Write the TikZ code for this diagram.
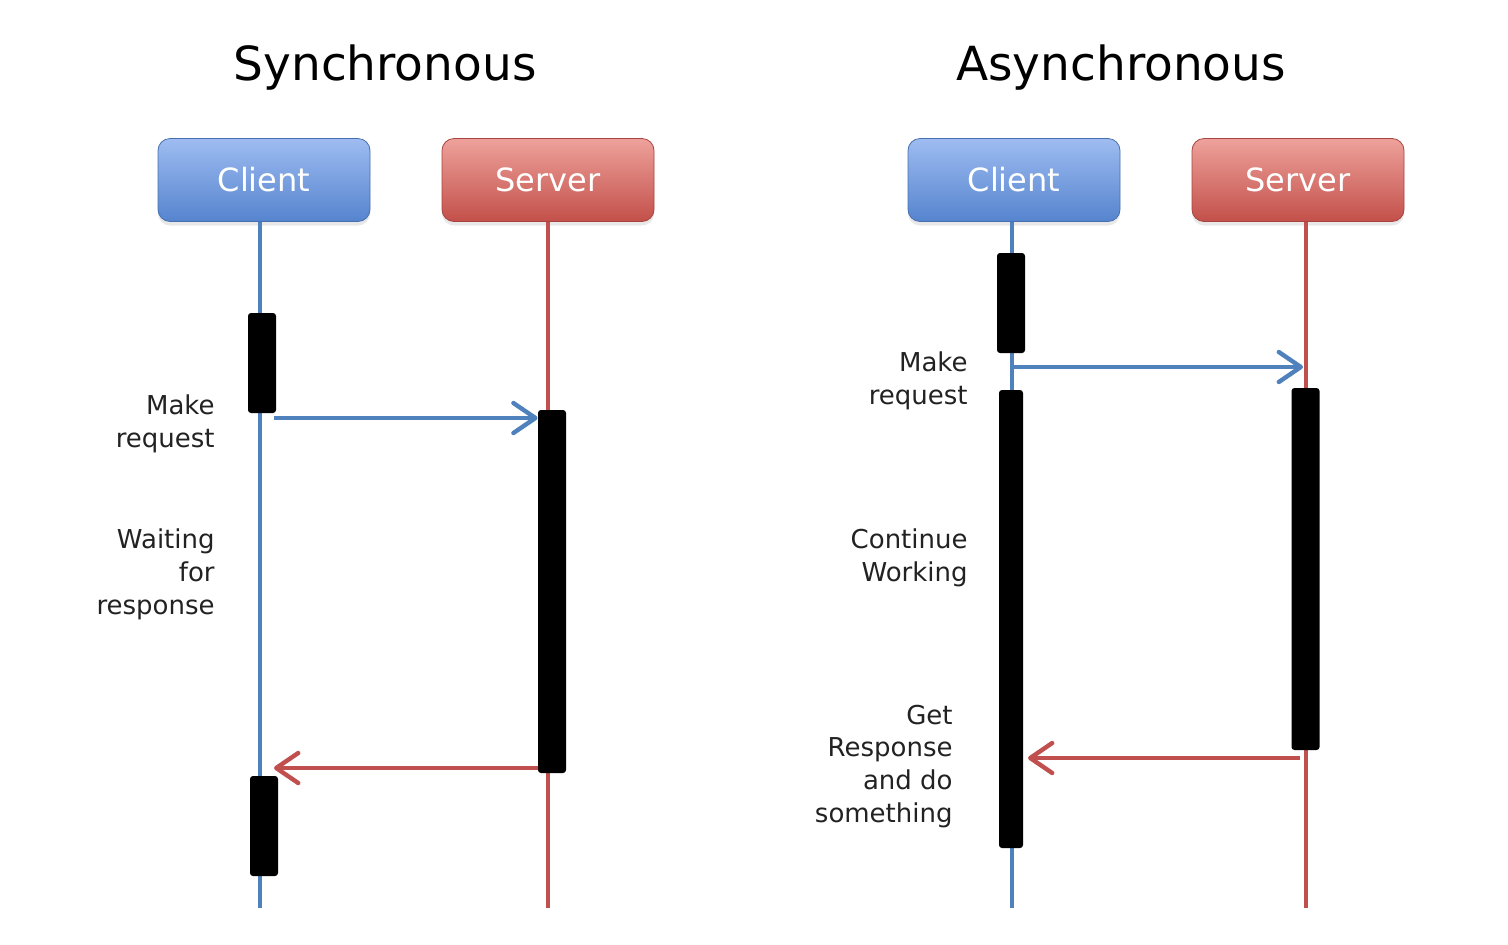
\documentclass[tikz,border=0pt]{standalone}
\usepackage{fontspec}
\setmainfont{DejaVu Sans}
\usepackage{tikz}
\usepackage{xcolor}
\usetikzlibrary{positioning}
\usetikzlibrary{shadows}
\usetikzlibrary{arrows.meta}

\definecolor{lineblue}{HTML}{4F81BD}
\definecolor{linered}{HTML}{C0504D}
\definecolor{bluetop}{HTML}{9EBCF1}
\definecolor{bluebot}{HTML}{5584CE}
\definecolor{redtop}{HTML}{EEA19B}
\definecolor{redbot}{HTML}{C3504A}
\definecolor{txt}{HTML}{222222}

\begin{document}
\begin{tikzpicture}
	[x=0.5pt, y=-0.5pt, node distance={142pt},
	head/.style = {draw, rounded corners=6pt, minimum width=106pt, minimum height=41.5pt, text=white, font=\fontsize{16}{19}\selectfont, drop shadow={opacity=0.18, shadow xshift=0pt, shadow yshift=-2pt}},
	client/.style = {head, draw=bluebot!85!black, top color=bluetop, bottom color=bluebot},
	server/.style = {head, draw=redbot!85!black, top color=redtop, bottom color=redbot},
	act/.style = {fill=black, rounded corners=1.5pt, minimum width=14pt, inner sep=0pt},
	bline/.style = {lineblue, line width=2pt},
	rline/.style = {linered, line width=2pt},
	msg/.style = {line width=2.2pt, -{Straight Barb[length=11pt, width=15pt, round]}},
	note/.style = {align=right, anchor=base east, inner sep=0pt, text=txt, font=\fontsize{13}{16.3}\selectfont},
	title/.style = {anchor=base, inner sep=0pt, text=black, font=\fontsize{23.5}{28}\selectfont}]
	\useasboundingbox (0,0) rectangle (1508,944);
	% synchronous
	\node[title] (t1) at (385,80) {Synchronous};
	\node[client] (c1) at (264,180) {Client};
	\node[server] (s1) [right of = c1] {Server};
	\coordinate (c1e) at (260,908);
	\coordinate (s1e) at (548,908);
	\draw[bline] (c1.south -| c1e) -- (c1e);
	\draw[rline] (s1.south -| s1e) -- (s1e);
	\node[act, minimum height=50pt] (cb1) at (262,363) {};
	\node[act, minimum height=181.5pt] (sb1) at (552,591.5) {};
	\node[act, minimum height=50pt] (cb2) at (264,826) {};
	\coordinate (m1) at (274,418);
	\coordinate (r1) at (274,768);
	\draw[msg, lineblue] (m1) -- (sb1.west |- m1);
	\draw[msg, linered] (sb1.west |- r1) -- (r1);
	\node[note] (n1) at (215,447) {Make\\request};
	\node[note] (n2) at (215,614) {Waiting\\for\\response};
	% asynchronous
	\node[title] (t2) at (1121,80) {Asynchronous};
	\node[client] (c2) at (1014,180) {Client};
	\node[server] (s2) [right of = c2] {Server};
	\coordinate (c2e) at (1012,908);
	\coordinate (s2e) at (1306,908);
	\draw[bline] (c2.south -| c2e) -- (c2e);
	\draw[rline] (s2.south -| s2e) -- (s2e);
	\node[act, minimum height=50pt] (cb3) at (1011,303) {};
	\node[act, minimum height=229pt, minimum width=12pt] (cb4) at (1011,619) {};
	\node[act, minimum height=181pt] (sb2) at (1305.5,569) {};
	\coordinate (m2) at (1012,367);
	\coordinate (r2) at (1028,758);
	\draw[msg, lineblue, shorten >=1.5pt] (m2) -- (s2e |- m2);
	\draw[msg, linered, shorten <=3pt] (s2e |- r2) -- (r2);
	\node[note] (n3) at (968,404) {Make\\request};
	\node[note] (n4) at (968,581) {Continue\\Working};
	\node[note] (n5) at (953,822) {Get\\Response\\and do\\something};
\end{tikzpicture}
\end{document}
